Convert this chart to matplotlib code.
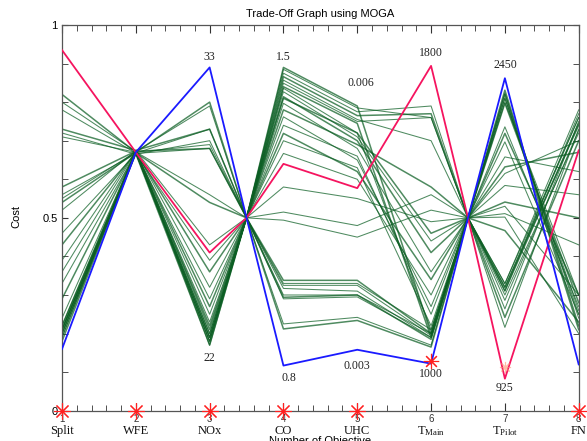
import matplotlib
matplotlib.use("Agg")
import matplotlib.pyplot as plt
import numpy as np

plt.rcParams['mathtext.fontset'] = 'custom'
plt.rcParams['mathtext.rm'] = 'Liberation Serif'
plt.rcParams['mathtext.it'] = 'Liberation Serif'

# ---- data ----
x_positions = [1, 2, 3, 3.5, 4, 5, 6, 6.5, 7, 8]
axis_numbers = ['1', '2', '3', '4', '5', '6', '7', '8']
axis_names = ['Split', 'WFE', 'NOx', 'CO', 'UHC', r'T$_{\mathrm{Main}}$', r'T$_{\mathrm{Pilot}}$', 'FN']
axis_ticks = [1, 2, 3, 4, 5, 6, 7, 8]

green_split = [0.82, 0.80, 0.78, 0.73, 0.72, 0.71, 0.58, 0.56, 0.55, 0.54, 0.52, 0.46, 0.43, 0.39, 0.33,
               0.29, 0.24, 0.22, 0.22, 0.21, 0.21, 0.21, 0.20, 0.20, 0.20, 0.19, 0.19, 0.18, 0.36, 0.21]
green_wfe = [0.67, 0.672, 0.668, 0.675, 0.665, 0.67, 0.673, 0.667, 0.671, 0.669, 0.674, 0.666, 0.67, 0.672, 0.668,
             0.67, 0.671, 0.669, 0.673, 0.667, 0.67, 0.672, 0.668, 0.67, 0.666, 0.674, 0.67, 0.669, 0.671, 0.67]
green_nox = [0.80, 0.79, 0.73, 0.73, 0.70, 0.69, 0.68, 0.68, 0.56, 0.54, 0.43, 0.39, 0.36, 0.32, 0.29,
             0.27, 0.25, 0.23, 0.21, 0.20, 0.19, 0.19, 0.18, 0.18, 0.17, 0.17, 0.20, 0.22, 0.18, 0.19]
green_hub1 = [0.5] * 30
green_co = [0.89, 0.885, 0.875, 0.866, 0.857, 0.849, 0.84, 0.836, 0.827, 0.814, 0.797, 0.762, 0.719, 0.667, 0.58,
            0.81, 0.515, 0.494, 0.338, 0.325, 0.317, 0.294, 0.29, 0.225, 0.212, 0.33, 0.30, 0.78, 0.74, 0.70]
green_uhc = [0.79, 0.785, 0.775, 0.765, 0.755, 0.75, 0.745, 0.72, 0.71, 0.70, 0.68, 0.65, 0.62, 0.60, 0.55,
             0.72, 0.48, 0.45, 0.338, 0.325, 0.31, 0.30, 0.295, 0.242, 0.234, 0.33, 0.30, 0.69, 0.66, 0.63]
green_tmain = [0.20, 0.76, 0.79, 0.77, 0.70, 0.76, 0.19, 0.21, 0.44, 0.41, 0.36, 0.27, 0.34, 0.30, 0.49,
               0.46, 0.56, 0.52, 0.20, 0.195, 0.19, 0.185, 0.19, 0.17, 0.165, 0.21, 0.20, 0.58, 0.25, 0.22]
green_hub2 = [0.5] * 30
green_tpilot = [0.831, 0.823, 0.81, 0.797, 0.80, 0.736, 0.719, 0.697, 0.658, 0.632, 0.615, 0.584, 0.541, 0.511, 0.502,
                0.467, 0.329, 0.32, 0.311, 0.286, 0.264, 0.242, 0.216, 0.33, 0.32, 0.30, 0.31, 0.82, 0.81, 0.53]
green_fn = [0.22, 0.24, 0.26, 0.28, 0.30, 0.27, 0.30, 0.25, 0.62, 0.67, 0.70, 0.56, 0.50, 0.43, 0.20,
            0.23, 0.78, 0.76, 0.745, 0.727, 0.75, 0.70, 0.73, 0.76, 0.74, 0.72, 0.77, 0.21, 0.25, 0.30]

red_line = [0.935, 0.67, 0.41, 0.5, 0.64, 0.577, 0.894, 0.5, 0.083, 0.675]
blue_line = [0.16, 0.67, 0.89, 0.5, 0.117, 0.158, 0.122, 0.5, 0.862, 0.12]

limit_labels = ['33', '22', '1.5', '0.8', '0.006', '0.003', '1800', '1000', '2450', '925']
limit_x = [3, 3, 4, 4.08, 5.05, 5, 6, 6, 7, 7]
limit_y = [0.917, 0.136, 0.917, 0.085, 0.85, 0.116, 0.927, 0.095, 0.896, 0.059]

marker_x = [1, 2, 3, 4, 5, 8]
marker_y = [0, 0, 0, 0, 0, 0]

# ---- figure ----
fig = plt.figure(figsize=(5.87, 4.41), dpi=100)
ax = fig.add_axes([62 / 587, 30.3 / 441, 516.7 / 587, 385.7 / 441])

green_cols = [green_split, green_wfe, green_nox, green_hub1, green_co, green_uhc,
              green_tmain, green_hub2, green_tpilot, green_fn]
for i in range(len(green_split)):
    ys = [col[i] for col in green_cols]
    lw = 1.1 if i % 3 == 0 else 0.75
    ax.plot(x_positions, ys, color='#0b5e23', lw=lw, alpha=0.72, zorder=2)

ax.plot(x_positions, red_line, color='#f5145f', lw=1.3, zorder=3)
ax.plot(x_positions, blue_line, color='#1a1aff', lw=1.3, zorder=3)

star = (8, 2, 0)
ax.plot(marker_x, marker_y, ls='none', marker=star, ms=12, mew=0.8, color='#ff2020',
        clip_on=False, zorder=5)
ax.plot([6], [0.13], ls='none', marker=star, ms=11, mew=0.8, color='#ff2020', zorder=5)
ax.plot([7], [0.114], ls='none', marker=star, ms=8, mew=0.8, color='#ff9070', alpha=0.6, zorder=5)

for lab, lx, ly in zip(limit_labels, limit_x, limit_y):
    ax.text(lx, ly, lab, ha='center', va='center', fontsize=8.5,
            family='Liberation Serif', color='#222222', zorder=6)

ax.set_xlim(1, 8)
ax.set_ylim(0, 1)
ax.set_xticks(axis_ticks)
ax.set_xticklabels([''] * len(axis_ticks))
ax.set_xticks(np.arange(1, 8.01, 0.2), minor=True)
ax.set_yticks([0, 0.5, 1])
ax.set_yticklabels(['0', '0.5', '1'], family='Liberation Sans', fontsize=8)
ax.set_yticks(np.arange(0, 1.01, 0.1), minor=True)
ax.tick_params(which='both', direction='in', top=True, right=True, color='#333333')
ax.tick_params(which='major', length=6, width=0.8, pad=3)
ax.tick_params(which='minor', length=4, width=0.6)
ax.tick_params(axis='y', which='major', length=4)
for s in ax.spines.values():
    s.set_color('#555555')
    s.set_linewidth(0.9)

trans = ax.get_xaxis_transform()
for xv, num, name in zip(axis_ticks, axis_numbers, axis_names):
    ax.text(xv, -0.022, num, transform=trans, ha='center', va='center',
            fontsize=7, family='Liberation Sans', color='#333333', clip_on=False)
    ax.text(xv, -0.052, name, transform=trans, ha='center', va='center',
            fontsize=9, family='Liberation Serif', color='#111111', clip_on=False)

ax.set_title('Trade-Off Graph using MOGA', fontsize=8, family='Liberation Sans', pad=6)
fig.text(16 / 587, 1 - 217 / 441, 'Cost', rotation=90, ha='center', va='center',
         fontsize=8, family='Liberation Sans')
fig.text(0.545, 1 - 436 / 441, 'Number of Objective', ha='center', va='top',
         fontsize=8, family='Liberation Sans', zorder=0)

fig.savefig('out.png', dpi=100)
